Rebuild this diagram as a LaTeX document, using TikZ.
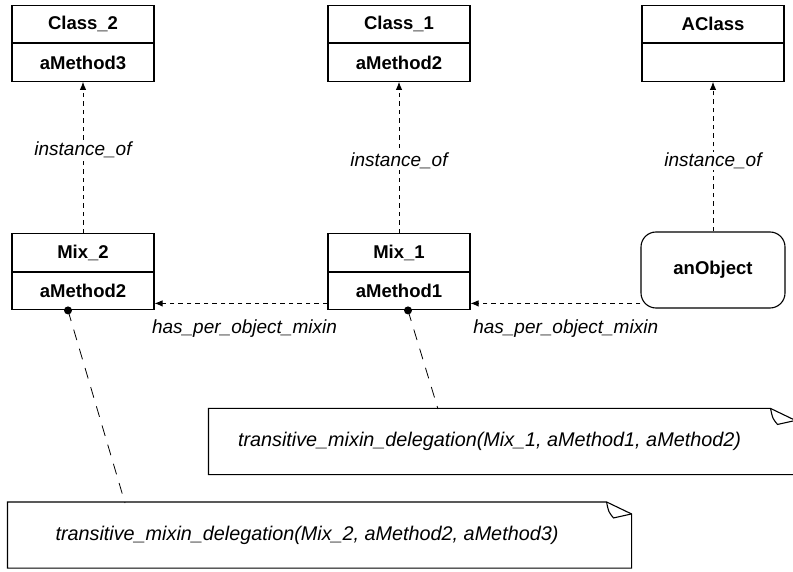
\documentclass[tikz,border=0pt]{standalone}
\usepackage{fontspec}
\setmainfont{Liberation Sans}
\usetikzlibrary{positioning,arrows.meta}

\tikzset{
  part/.style={draw, minimum width=142pt, minimum height=37.5pt, inner sep=0pt,
    font=\fontsize{18.5}{20}\selectfont\bfseries},
  objbox/.style={draw, rounded corners=15pt, minimum width=144pt, minimum height=76pt,
    inner sep=0pt, font=\fontsize{18.5}{20}\selectfont\bfseries},
  dep/.style={-{Latex[length=8pt,width=6.5pt]}, line width=0.9pt, dash pattern=on 4.5pt off 4pt},
  lbl/.style={fill=white, inner sep=1pt, font=\fontsize{19}{21}\selectfont\itshape},
  notetext/.style={inner sep=0pt, minimum height=65pt, font=\fontsize{19.8}{22}\selectfont\itshape},
  notelink/.style={dash pattern=on 11pt off 9pt, line width=0.8pt},
  dot/.style={circle, fill, inner sep=0pt, minimum size=8pt},
}

% outline of a note with a folded corner
\newcommand{\notefold}[1]{%
  \draw (#1.north west) -- (#1.north east) -- ([xshift=25pt,yshift=-12pt]#1.north east)
    -- ([xshift=25pt]#1.south east) -- (#1.south west) -- cycle;
  \draw (#1.north east) .. controls ([xshift=2pt,yshift=-10pt]#1.north east)
    .. ([xshift=7pt,yshift=-16pt]#1.north east) -- ([xshift=25pt,yshift=-12pt]#1.north east);
}

\begin{document}
\begin{tikzpicture}[x=1pt, y=1pt, node distance=0pt, line width=1.1pt]
  \useasboundingbox (0,0) rectangle (793,571);

  % classes
  \node[part] (class2) at (83,547) {Class\_2};
  \node[part, below=of class2] (class2m) {aMethod3};
  \node[part] (class1) at (399,547) {Class\_1};
  \node[part, below=of class1] (class1m) {aMethod2};
  \node[part] (aclass) at (713,547) {AClass};
  \node[part, below=of aclass] (aclassm) {};

  % mixins and object
  \node[part] (mix2) at (83,318.5) {Mix\_2};
  \node[part, below=of mix2] (mix2m) {aMethod2};
  \node[part] (mix1) at (399,318.5) {Mix\_1};
  \node[part, below=of mix1] (mix1m) {aMethod1};
  \node[objbox] (anobj) at (713,301) {anObject};

  \draw[dep] (mix2.north) -- node[lbl, pos=0.55] {instance\_of} (class2m.south);
  \draw[dep] (mix1.north) -- node[lbl, pos=0.48] {instance\_of} (class1m.south);
  \draw[dep] (anobj.north) -- node[lbl, pos=0.47] {instance\_of} (aclassm.south);

  \coordinate (lvl) at ([yshift=7pt]mix1m.south);
  \draw[dep] (anobj.west |- lvl) -- node[lbl, below=15pt, pos=0.44] {has\_per\_object\_mixin} (mix1m.east |- lvl);
  \draw[dep] (mix1m.west |- lvl) -- node[lbl, below=15pt, pos=0.48] {has\_per\_object\_mixin} (mix2m.east |- lvl);

  % notes
  \node[notetext, minimum width=561pt] (note1) at (489.5,129.5)
    {transitive\_mixin\_delegation(Mix\_1, aMethod1, aMethod2)};
  \notefold{note1}
  \node[notetext, minimum width=598pt] (note2) at (307,36)
    {transitive\_mixin\_delegation(Mix\_2, aMethod2, aMethod3)};
  \notefold{note2}

  \node[dot] (mix1dot) at ([xshift=9pt]mix1m.south) {};
  \node[dot] (mix2dot) at ([xshift=-15pt]mix2m.south) {};
  \coordinate (n1end) at (438,162);
  \coordinate (n2end) at (125,68);
  \draw[notelink] (mix1dot.center) -- (n1end);
  \draw[notelink] (mix2dot.center) -- (n2end);
\end{tikzpicture}
\end{document}
